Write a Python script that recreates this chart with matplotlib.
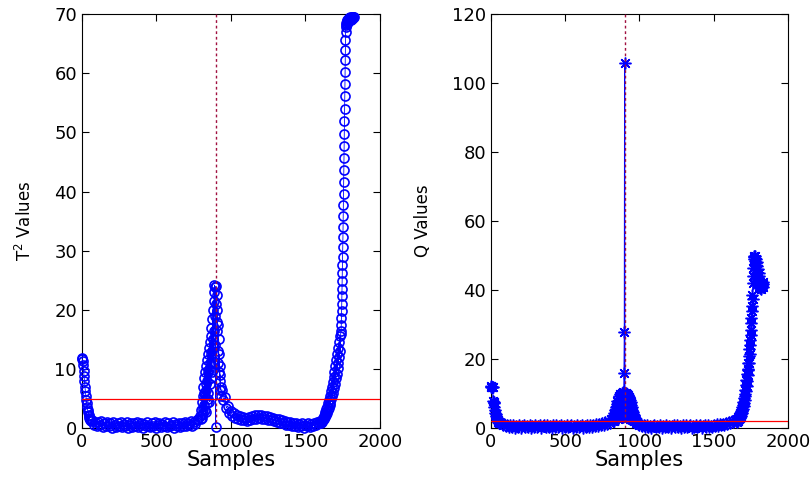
import matplotlib
matplotlib.use("Agg")
import matplotlib.pyplot as plt
import numpy as np

# ---- T^2 statistic (sample index, value)
t2_seg1_x = np.arange(0, 63, 3)
t2_seg1 = [11.9, 11.7, 11.3, 10.6, 9.7, 8.8, 7.9, 7.0, 6.2, 5.5, 4.8, 4.2, 3.6, 3.1,
           2.7, 2.3, 2.0, 1.7, 1.5, 1.3, 1.2]

t2_seg2_x = np.arange(70, 800, 10)
t2_seg2 = [1.3, 0.6, 1.1, 0.3, 1.0, 0.5, 1.2, 0.2, 0.9, 0.4,
           1.1, 0.3, 0.8, 0.1, 1.0, 0.5, 0.2, 0.9, 0.4, 1.1,
           0.2, 0.7, 0.3, 1.0, 0.1, 0.6, 0.9, 0.2, 0.8, 0.4,
           1.0, 0.2, 0.6, 0.9, 0.1, 0.7, 0.3, 1.0, 0.4, 0.2,
           0.8, 0.3, 1.1, 0.1, 0.6, 0.9, 0.2, 0.7, 0.4, 1.0,
           0.2, 0.8, 0.3, 0.6, 1.0, 0.1, 0.7, 0.4, 0.9, 0.2,
           0.8, 0.4, 1.1, 0.3, 0.9, 0.5, 1.2, 0.4, 1.0, 0.7,
           1.3, 1.6, 2.0]

t2_seg3_x = np.arange(800, 935, 2)
t2_seg3 = [1.5, 3.0, 2.2, 4.5, 1.8, 5.5, 3.2, 7.0, 2.5, 6.0,
           4.0, 8.5, 3.0, 9.5, 5.5, 7.5, 2.8, 10.5, 6.5, 4.2,
           11.5, 8.0, 5.0, 12.5, 9.5, 6.0, 13.5, 10.0, 4.5, 14.5,
           11.0, 7.5, 15.5, 12.5, 8.5, 17.0, 13.0, 9.5, 18.5, 15.0,
           20.0, 11.0, 21.5, 16.5, 23.0, 24.2, 19.0, 23.8, 14.0, 0.2,
           24.0, 21.0, 18.0, 22.5, 16.5, 20.0, 13.0, 17.5, 11.0, 15.0,
           9.5, 12.5, 8.0, 10.5, 6.5, 9.0, 7.0, 5.5]

t2_seg4_x = np.arange(940, 1610, 10)
t2_seg4 = [6.5, 4.8, 5.2, 3.4, 3.8, 2.6, 2.9, 2.1, 2.5, 1.8,
           2.2, 1.5, 2.0, 1.4, 1.9, 1.3, 1.8, 1.2, 1.9, 1.4,
           2.0, 1.5, 2.2, 1.6, 2.3, 1.7, 2.2, 1.6, 2.1, 1.5,
           2.0, 1.4, 1.9, 1.3, 1.8, 1.2, 1.6, 1.0, 1.5, 0.9,
           1.3, 0.8, 1.2, 0.6, 1.1, 0.5, 1.0, 0.4, 0.9, 0.3,
           0.8, 0.2, 0.7, 0.3, 0.8, 0.1, 0.6, 0.3, 0.8, 0.2,
           0.7, 0.4, 0.9, 0.5, 1.0, 0.8, 1.2]

t2_seg5_x = np.arange(1605, 1740, 3)
t2_seg5 = [1.1, 0.8, 1.4, 1.0, 1.7, 1.3, 2.0, 1.6, 2.4, 1.9,
           2.8, 2.2, 3.2, 2.6, 3.6, 3.0, 4.2, 3.4, 4.8, 3.9,
           5.5, 4.3, 6.2, 4.9, 7.0, 5.4, 7.8, 6.0, 8.6, 6.8,
           9.5, 7.5, 10.5, 8.4, 11.5, 9.2, 12.5, 10.2, 13.5, 11.0,
           14.5, 12.0, 15.5, 13.0, 16.0]

t2_seg6_x = np.arange(1740, 1772, 1)
t2_seg6 = [16.5, 17.5, 18.6, 19.8, 21.0, 22.3, 23.5, 24.8, 26.2, 27.6,
           29.0, 30.6, 32.3, 34.0, 35.8, 37.7, 39.6, 41.6, 43.6, 45.6,
           47.7, 49.8, 51.9, 54.0, 56.1, 58.2, 60.2, 62.2, 64.0, 65.6,
           66.9, 67.9]

t2_seg7_x = np.arange(1772, 1825, 2)
t2_seg7 = [68.2, 68.5, 68.3, 68.8, 68.6, 69.0, 68.7, 69.2, 68.9, 69.3,
           69.0, 69.4, 69.1, 69.5, 69.2, 69.4, 69.0, 69.3, 69.1, 69.5,
           69.2, 69.6, 69.3, 69.5, 69.4, 69.6, 69.5]

# ---- Q statistic
q_seg1_x = np.arange(0, 63, 3)
q_seg1 = [12.0, 12.1, 12.0, 11.9, 12.0, 7.8, 7.5, 7.2, 6.0, 5.2, 4.5, 4.0, 3.4,
          3.0, 2.7, 2.4, 2.1, 1.9, 1.7, 1.6, 1.5]

q_seg2_x = np.arange(70, 824, 10)
q_seg2 = [1.4, 0.8, 1.2, 0.5, 1.0, 0.3, 0.9, 0.2, 0.8, 0.1,
          0.7, 0.3, 1.0, 0.1, 0.6, 0.9, 0.2, 0.7, 0.4, 1.0,
          0.1, 0.6, 0.3, 0.9, 0.2, 0.7, 1.0, 0.1, 0.5, 0.8,
          0.2, 0.9, 0.3, 0.6, 0.1, 0.8, 0.4, 1.0, 0.2, 0.6,
          0.9, 0.1, 0.7, 0.3, 1.0, 0.2, 0.5, 0.8, 0.1, 0.7,
          0.3, 0.9, 0.2, 0.6, 1.0, 0.1, 0.7, 0.4, 0.9, 0.2,
          0.8, 0.4, 1.0, 0.5, 1.1, 0.6, 1.2, 0.8, 1.4, 1.0,
          1.7, 1.3, 2.1, 1.6, 2.6, 2.0]

q_seg3_x = np.arange(824, 983, 2)
q_seg3 = [2.5, 3.8, 2.2, 4.5, 3.0, 5.2, 2.6, 4.0, 6.0, 3.2,
          5.5, 7.0, 3.8, 6.2, 8.0, 4.5, 7.5, 2.8, 8.8, 5.5,
          9.2, 6.5, 3.5, 8.5, 10.0, 5.0, 9.5, 7.2, 10.2, 4.0,
          8.0, 10.5, 6.0, 9.8, 3.2, 10.3, 16.0, 28.0, 105.8, 9.6,
          5.0, 10.2, 8.0, 3.5, 9.8, 6.5, 10.0, 4.2, 9.2, 7.0,
          9.5, 3.0, 8.8, 5.8, 9.0, 2.6, 8.2, 6.0, 7.5, 3.5,
          6.8, 4.8, 6.0, 2.8, 5.2, 4.0, 4.6, 2.5, 3.8, 3.2,
          3.4, 2.2, 2.9, 2.6, 2.4, 1.8, 2.1, 1.6, 1.8, 1.4]

q_seg4_x = np.arange(990, 1660, 10)
q_seg4 = [1.3, 0.8, 1.1, 0.5, 0.9, 0.3, 0.8, 0.2, 0.7, 0.1,
          0.6, 0.9, 0.2, 0.7, 0.4, 1.0, 0.1, 0.6, 0.3, 0.9,
          0.2, 0.7, 0.1, 0.5, 0.8, 0.2, 0.9, 0.3, 0.6, 0.1,
          0.8, 0.4, 1.0, 0.2, 0.6, 0.9, 0.1, 0.7, 0.3, 0.8,
          0.2, 0.6, 1.0, 0.1, 0.5, 0.8, 0.2, 0.9, 0.4, 0.7,
          0.3, 1.0, 0.5, 1.1, 0.6, 1.2, 0.8, 1.3, 0.9, 1.5,
          1.1, 1.8, 1.4, 2.1, 1.7, 2.5, 2.0]

q_seg5_x = np.arange(1655, 1770, 2)
q_seg5 = [2.5, 1.9, 2.8, 2.2, 3.1, 2.4, 3.3, 2.7, 3.6, 3.0,
          4.0, 3.2, 4.4, 3.6, 4.9, 4.0, 5.4, 4.5, 6.0, 5.0,
          6.8, 5.6, 7.6, 6.4, 8.6, 7.2, 9.8, 8.2, 11.0, 9.4,
          12.5, 10.8, 14.0, 12.2, 15.6, 13.8, 17.2, 15.4, 19.0, 17.0,
          21.0, 19.0, 23.0, 21.5, 25.5, 24.0, 28.5, 27.0, 32.0, 30.5,
          35.5, 34.0, 38.5, 37.5, 42.0, 44.0, 46.5, 49.0]

q_seg6_x = np.arange(1771, 1835, 2)
q_seg6 = [49.5, 50.0, 47.2, 49.8, 48.5, 46.0, 49.0, 47.8, 45.0, 48.2,
          44.0, 47.0, 43.2, 46.2, 42.5, 45.0, 41.8, 44.0, 41.0, 42.5,
          40.5, 41.5, 40.2, 41.8, 40.8, 42.2, 41.2, 41.9, 41.5, 42.3,
          41.0, 41.9]

# control limits and fault sample
t2_limit = 5.0
q_limit = 2.2
fault_sample = 900

t2_x = np.concatenate([t2_seg1_x, t2_seg2_x, t2_seg3_x, t2_seg4_x,
                       t2_seg5_x, t2_seg6_x, t2_seg7_x])
t2 = np.concatenate([t2_seg1, t2_seg2, t2_seg3, t2_seg4, t2_seg5, t2_seg6, t2_seg7])
q_x = np.concatenate([q_seg1_x, q_seg2_x, q_seg3_x, q_seg4_x, q_seg5_x, q_seg6_x])
q = np.concatenate([q_seg1, q_seg2, q_seg3, q_seg4, q_seg5, q_seg6])

plt.rcParams["font.family"] = "DejaVu Sans"

fig = plt.figure(figsize=(8.1, 4.8), dpi=100)
ax1 = fig.add_axes([0.101, 0.108, 0.368, 0.8625])
ax2 = fig.add_axes([0.606, 0.108, 0.367, 0.8625])

ax1.plot(t2_x, t2, "-", color="b", lw=0.6, marker="o", ms=6.5, mfc="none",
         mec="b", mew=1.2, clip_on=False, zorder=3)
ax2.plot(q_x, q, "-", color="b", lw=0.8, marker=(8, 2, 0), ms=8.5,
         mec="b", mew=1.1, clip_on=False, zorder=3)

for ax, lim, top, step in [(ax1, t2_limit, 70, 10), (ax2, q_limit, 120, 20)]:
    ax.axhline(lim, color="r", lw=0.9, zorder=4)
    ax.axvline(fault_sample, color="#a01040", lw=1.0, ls=(0, (2, 2)), zorder=4)
    ax.set_xlim(0, 2000)
    ax.set_ylim(0, top)
    ax.set_xticks(np.arange(0, 2001, 500))
    ax.set_yticks(np.arange(0, top + 1, step))
    ax.tick_params(direction="in", top=True, right=True, labelsize=13,
                   length=5, width=0.8)
    ax.set_xlabel("Samples", fontsize=15, labelpad=-1)
    for sp in ax.spines.values():
        sp.set_linewidth(0.8)

ax1.set_ylabel("T$^2$ Values", fontsize=12, labelpad=14)
ax2.set_ylabel("Q Values", fontsize=12, labelpad=14)

fig.savefig("out.png", dpi=100)
